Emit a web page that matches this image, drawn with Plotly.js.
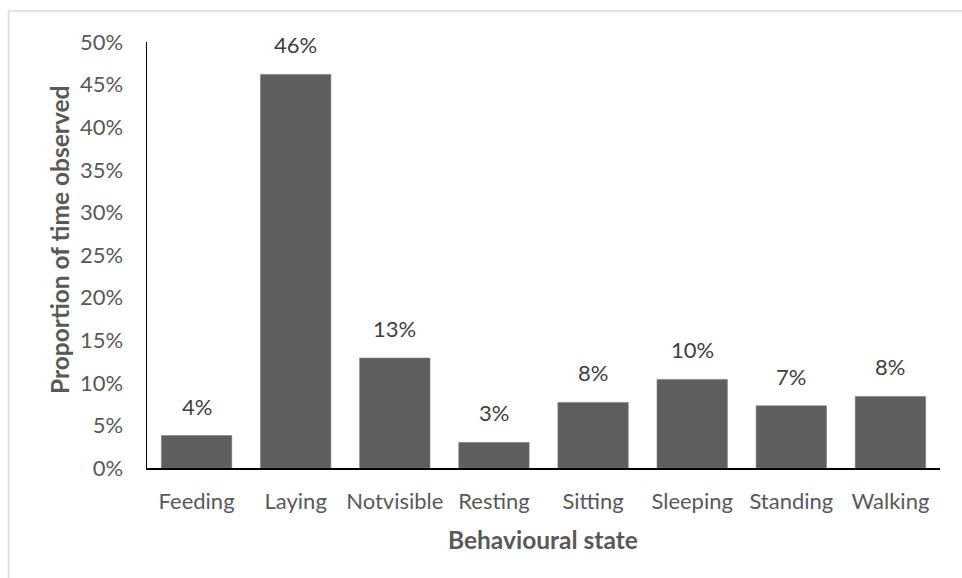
<!DOCTYPE html>
<html>
<head>
<meta charset="utf-8">
<script src="https://cdn.plot.ly/plotly-3.0.1.min.js"></script>
<style>
  html, body { margin: 0; padding: 0; background: #ffffff; }
  #chart { width: 962px; height: 578px; }
</style>
</head>
<body>
<div id="chart"></div>
<script>
// Behavioural states and the share of observation time spent in each
const categories = ['Feeding', 'Laying', 'Notvisible', 'Resting', 'Sitting', 'Sleeping', 'Standing', 'Walking'];
const proportions = [0.038, 0.462, 0.129, 0.030, 0.077, 0.104, 0.073, 0.084];
const yTickValues = [0, 0.05, 0.10, 0.15, 0.20, 0.25, 0.30, 0.35, 0.40, 0.45, 0.50];

const W = 962, H = 578;
const M = { l: 147, r: 22, t: 42, b: 110 };
const plotW = W - M.l - M.r;
const plotH = H - M.t - M.b;
// pixel -> paper helpers for decorations placed outside the plot area
const px = v => (v - M.l) / plotW;
const py = v => (H - M.b - v) / plotH;

const FONT = 'Lato, "Open Sans", sans-serif';
const TICK_COLOR = '#595959';
const TEXT_SIZE = 22;
const TITLE_SIZE = 24.5;

const trace = {
  type: 'bar',
  x: categories,
  y: proportions,
  marker: { color: '#5e5e5e', line: { color: '#7a7a7a', width: 0.6 } },
  hoverinfo: 'x+y'
};

function pct(v) {
  return Math.round(v * 100) + '%';
}

// value labels above each bar, formatted from the same numbers
const valueLabels = categories.map((c, i) => ({
  x: c,
  y: proportions[i],
  xref: 'x',
  yref: 'y',
  text: pct(proportions[i]),
  showarrow: false,
  yanchor: 'bottom',
  yshift: 14,
  font: { family: FONT, size: TEXT_SIZE, color: '#404040' }
}));

const layout = {
  width: W,
  height: H,
  margin: M,
  paper_bgcolor: '#ffffff',
  plot_bgcolor: '#ffffff',
  showlegend: false,
  bargap: 0.29,
  font: { family: FONT, size: TEXT_SIZE, color: TICK_COLOR },
  xaxis: {
    type: 'category',
    showline: true,
    linecolor: '#000000',
    linewidth: 2,
    showgrid: false,
    zeroline: false,
    ticks: '',
    ticklabelstandoff: 13,
    tickfont: { family: FONT, size: TEXT_SIZE, color: TICK_COLOR },
    fixedrange: true
  },
  yaxis: {
    range: [0, 0.5],
    tickvals: yTickValues,
    tickformat: '.0%',
    showline: true,
    linecolor: '#000000',
    linewidth: 1.5,
    showgrid: false,
    zeroline: false,
    ticks: '',
    ticklabelstandoff: 18,
    tickfont: { family: FONT, size: TEXT_SIZE, color: TICK_COLOR },
    fixedrange: true
  },
  annotations: valueLabels.concat([
    {
      text: '<b>Behavioural state</b>',
      xref: 'paper', yref: 'paper',
      x: px(543), y: py(539),
      xanchor: 'center', yanchor: 'middle',
      showarrow: false,
      font: { family: FONT, size: TITLE_SIZE, color: TICK_COLOR }
    },
    {
      text: '<b>Proportion of time observed</b>',
      xref: 'paper', yref: 'paper',
      x: px(59), y: py(240),
      xanchor: 'center', yanchor: 'middle',
      textangle: -90,
      showarrow: false,
      font: { family: FONT, size: TITLE_SIZE, color: TICK_COLOR }
    }
  ]),
  shapes: [
    // chart-area frame (left and top edges)
    { type: 'line', xref: 'paper', yref: 'paper',
      x0: px(8.5), x1: px(8.5), y0: py(11), y1: py(H + 5),
      line: { color: '#d9d9d9', width: 1.5 } },
    { type: 'line', xref: 'paper', yref: 'paper',
      x0: px(8.5), x1: px(W + 5), y0: py(11), y1: py(11),
      line: { color: '#d9d9d9', width: 1.5 } }
  ]
};

Plotly.newPlot('chart', [trace], layout, { displayModeBar: false, staticPlot: true });
</script>
</body>
</html>
